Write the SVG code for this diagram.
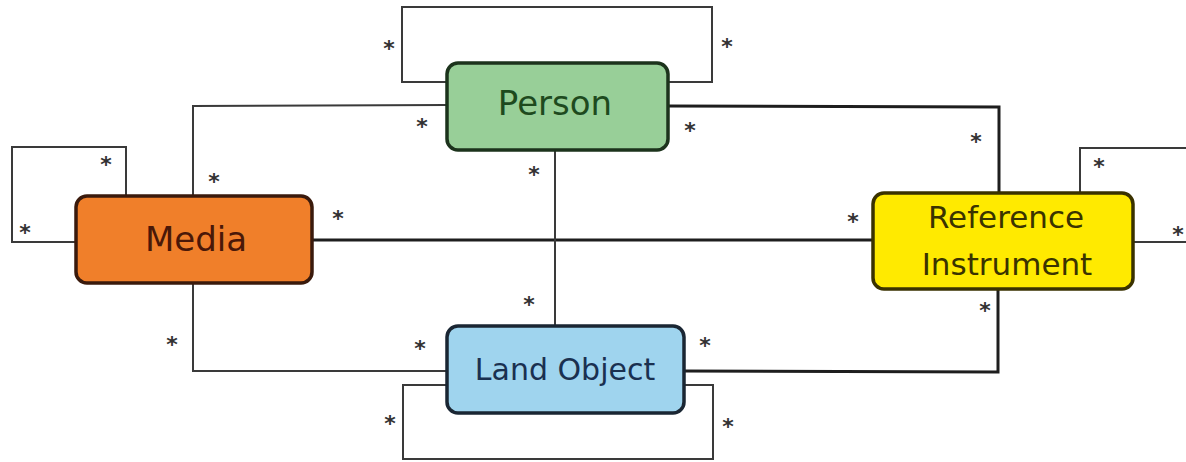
<svg xmlns="http://www.w3.org/2000/svg" width="1186" height="462" viewBox="0 0 1186 462">
<style>
.ln{fill:none;stroke:#3a3a3a;stroke-width:2}
.lt{fill:none;stroke:#1e1e1e;stroke-width:3}
.st{font-family:"DejaVu Sans",sans-serif;font-size:22px;font-weight:bold;fill:#333;text-anchor:middle}
.lb{font-family:"DejaVu Sans",sans-serif;text-anchor:middle}
.box{stroke-width:3.5}
</style>
<rect width="1186" height="462" fill="#fff"/>
<g id="connectors">
<polyline class="ln" points="447,82 402,82 402,7 712,7 712,82 668,82"/>
<polyline class="ln" points="447,105 193,106 193,195"/>
<polyline class="lt" points="668,106 999,107 999,192"/>
<polyline class="ln" points="126,195 126,147 12,147 12,242 76,242"/>
<polyline class="ln" points="1080,192 1080,148 1186,148"/>
<line class="ln" x1="1133" y1="242" x2="1186" y2="242"/>
<line class="lt" x1="312" y1="240" x2="873" y2="240"/>
<line class="ln" x1="555" y1="150" x2="555" y2="326"/>
<polyline class="ln" points="193,283 193,371 447,371"/>
<polyline class="lt" points="684,371 998,372 998,289"/>
<polyline class="ln" points="447,385 403,385 403,459 713,459 713,385 684,385"/>
</g>
<g id="multiplicities">
<text class="st" x="389" y="56">*</text>
<text class="st" x="727" y="54">*</text>
<text class="st" x="422" y="134">*</text>
<text class="st" x="690" y="138">*</text>
<text class="st" x="106" y="172">*</text>
<text class="st" x="25" y="240">*</text>
<text class="st" x="214" y="189">*</text>
<text class="st" x="976" y="149">*</text>
<text class="st" x="1099" y="174">*</text>
<text class="st" x="1178" y="242">*</text>
<text class="st" x="338" y="226">*</text>
<text class="st" x="853" y="229">*</text>
<text class="st" x="534" y="182">*</text>
<text class="st" x="529" y="312">*</text>
<text class="st" x="985" y="318">*</text>
<text class="st" x="172" y="352">*</text>
<text class="st" x="420" y="356">*</text>
<text class="st" x="705" y="353">*</text>
<text class="st" x="390" y="431">*</text>
<text class="st" x="728" y="434">*</text>
</g>
<g id="person">
<rect class="box" x="447" y="63" width="221" height="87" rx="11" fill="#98cf98" stroke="#1c331c"/>
<text class="lb" x="555" y="115" font-size="34" fill="#1e4a1e">Person</text>
</g>
<g id="media">
<rect class="box" x="76" y="196" width="236" height="87" rx="11" fill="#f07f2a" stroke="#3a1a0c"/>
<text class="lb" x="196" y="251" font-size="34" fill="#4a1808">Media</text>
</g>
<g id="reference-instrument">
<rect class="box" x="873" y="193" width="260" height="96" rx="11" fill="#ffea00" stroke="#3a3200"/>
<text class="lb" x="1006" y="228" font-size="31" fill="#3a3300">Reference</text>
<text class="lb" x="1007" y="275" font-size="31" fill="#3a3300">Instrument</text>
</g>
<g id="land-object">
<rect class="box" x="447" y="326" width="237" height="87" rx="11" fill="#9fd4ee" stroke="#1a2633"/>
<text class="lb" x="565" y="380" font-size="30" fill="#1a3050">Land Object</text>
</g>
</svg>
